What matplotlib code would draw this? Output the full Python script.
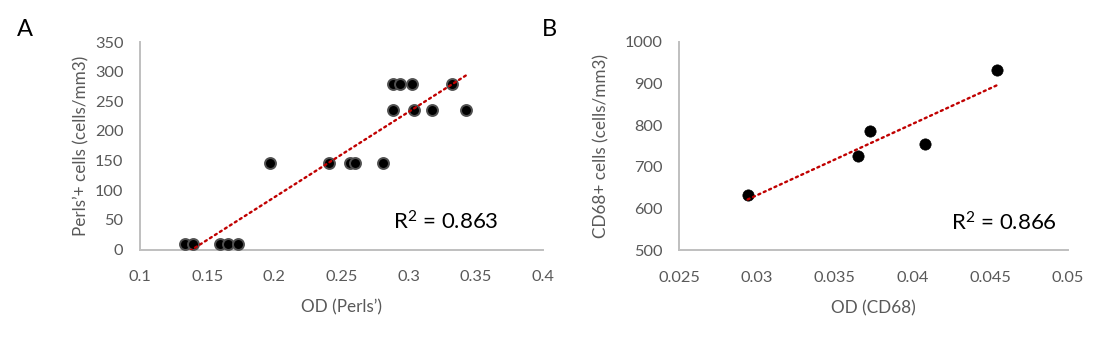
import numpy as np
import matplotlib
matplotlib.use("Agg")
import matplotlib.pyplot as plt

plt.rcParams['font.family'] = ['Lato', 'DejaVu Sans']
plt.rcParams['mathtext.fontset'] = 'custom'
plt.rcParams['mathtext.rm'] = 'Lato'
plt.rcParams['mathtext.it'] = 'Lato'
plt.rcParams['mathtext.bf'] = 'Lato:bold'

# Panel A data
od_perls = [0.1335, 0.1392, 0.1595, 0.1657, 0.1732,
            0.197, 0.2404, 0.2563, 0.260, 0.2806,
            0.288, 0.2937, 0.3024, 0.3326,
            0.288, 0.3036, 0.317, 0.3426]
perls_cells = [10, 10, 10, 10, 10,
               146, 146, 146, 146, 146,
               280, 280, 280, 280,
               236, 236, 236, 236]
r2_a = r"R$^{\mathrm{2}}$ = 0.863"

# Panel B data
od_cd68 = [0.02941, 0.03648, 0.03728, 0.04081, 0.04542]
cd68_cells = [633, 726, 786, 754, 932]
r2_b = r"R$^{\mathrm{2}}$ = 0.866"

xticks_a = [0.1, 0.15, 0.2, 0.25, 0.3, 0.35, 0.4]
yticks_a = [0, 50, 100, 150, 200, 250, 300, 350]
xticks_b = [0.025, 0.03, 0.035, 0.04, 0.045, 0.05]
yticks_b = [500, 600, 700, 800, 900, 1000]

W, H = 1107, 343
fig = plt.figure(figsize=(W / 100, H / 100), dpi=100)
fig.patch.set_facecolor('white')

axA = fig.add_axes([140 / W, 1 - 249.5 / H, 403 / W, 207.5 / H])
axB = fig.add_axes([679 / W, 1 - 250 / H, 389 / W, 208.3 / H])

grey_txt = '#595959'
spine_c = '#bfbfbf'
trend_c = '#c00000'


def style(ax, xt, yt, xlab, ylab, ylabpad):
    for s in ['top', 'right']:
        ax.spines[s].set_visible(False)
    for s in ['left', 'bottom']:
        ax.spines[s].set_color(spine_c)
        ax.spines[s].set_linewidth(1.4)
    ax.set_xticks(xt)
    ax.set_yticks(yt)
    ax.set_xticklabels([f"{v:g}" for v in xt])
    ax.set_yticklabels([f"{v:g}" for v in yt])
    ax.set_xlim(xt[0], xt[-1])
    ax.set_ylim(yt[0], yt[-1])
    ax.tick_params(axis='both', length=0, labelsize=11.8, colors=grey_txt)
    ax.tick_params(axis='y', pad=12)
    ax.tick_params(axis='x', pad=15)
    ax.set_xlabel(xlab, fontsize=12.3, color=grey_txt, labelpad=11)
    ax.set_ylabel(ylab, fontsize=12.3, color=grey_txt, labelpad=ylabpad)
    ax.set_facecolor('white')


def trend(ax, x, y):
    x = np.asarray(x)
    y = np.asarray(y)
    m, b = np.polyfit(x, y, 1)
    xs = np.array([x.min(), x.max()])
    ax.plot(xs, m * xs + b, color=trend_c, lw=1.7,
            linestyle=(0, (0.9, 1.6)), dash_capstyle='round', zorder=4)


style(axA, xticks_a, yticks_a, "OD (Perls\u2019)", "Perls\u2019+ cells (cells/mm3)", 4)
axA.scatter(od_perls, perls_cells, s=62, color='black', edgecolors='#505050',
            linewidths=1.4, zorder=3, clip_on=False)
trend(axA, od_perls, perls_cells)
axA.text(393 / W, 1 - 222 / H, r2_a, transform=fig.transFigure, fontsize=16,
         color='black', va='center', ha='left')

style(axB, xticks_b, yticks_b, "OD (CD68)", "CD68+ cells (cells/mm3)", 11)
axB.scatter(od_cd68, cd68_cells, s=66, color='black', edgecolors='black',
            linewidths=0.5, zorder=3, clip_on=False)
trend(axB, od_cd68, cd68_cells)
axB.text(951 / W, 1 - 223 / H, r2_b, transform=fig.transFigure, fontsize=16,
         color='black', va='center', ha='left')

fig.text(25 / W, 1 - 30 / H, "A", fontsize=17, color='black', ha='center', va='center')
fig.text(549 / W, 1 - 29 / H, "B", fontsize=17, color='black', ha='center', va='center')

fig.savefig("out.png", dpi=100, facecolor='white')
